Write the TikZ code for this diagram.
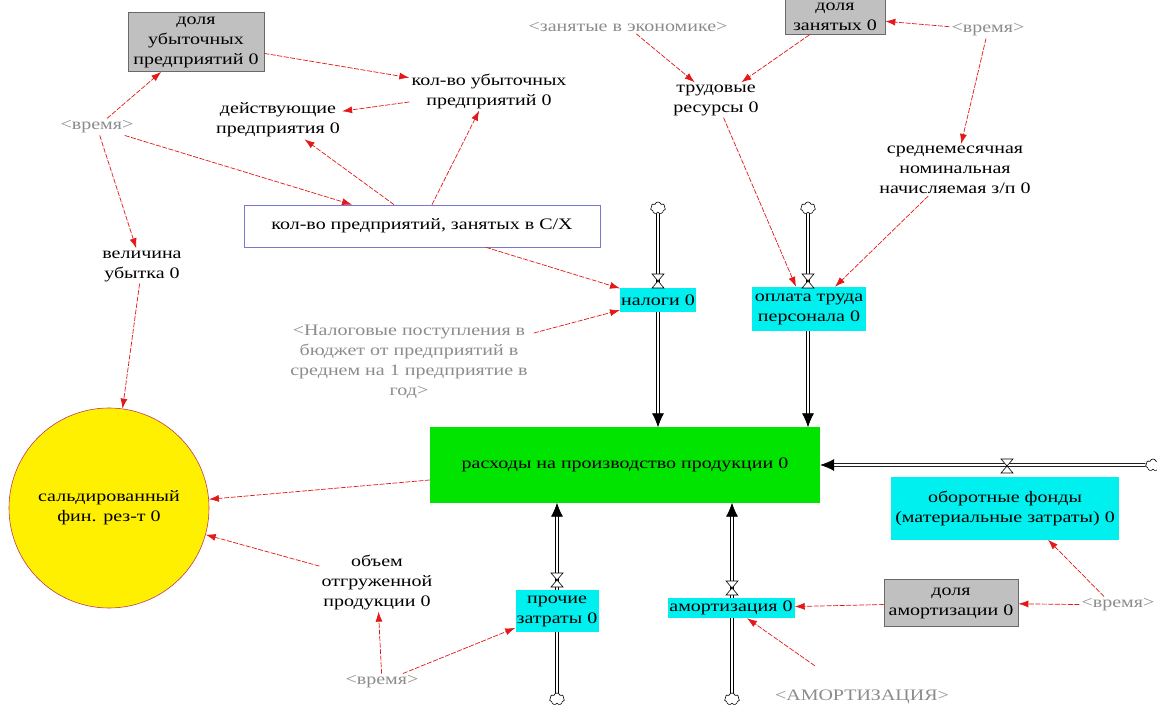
\documentclass[tikz,border=0pt]{standalone}
\usepackage{fontspec}
\setmainfont{Liberation Serif}[FakeStretch=1.25]
\usetikzlibrary{arrows.meta,shapes.symbols,calc}
\pgfdeclarelayer{background}
\pgfsetlayers{background,main}
\definecolor{arrowred}{RGB}{228,24,24}
\definecolor{shadowgray}{RGB}{140,140,140}
\definecolor{auxgray}{RGB}{192,192,192}
\definecolor{boxedge}{RGB}{105,105,105}
\definecolor{flowcyan}{RGB}{0,240,240}
\definecolor{stockgreen}{RGB}{0,228,0}
\definecolor{saldo}{RGB}{255,240,0}
\definecolor{saldoedge}{RGB}{190,60,90}
\definecolor{stockedge}{RGB}{120,120,205}
\tikzset{
  every node/.style={font=\fontsize{16}{20}\selectfont, align=center, text=black, inner sep=2pt},
  shadow/.style={text=shadowgray},
  auxbox/.style={draw=boxedge, fill=auxgray, line width=0.7pt},
  flowbox/.style={fill=flowcyan, inner sep=1pt},
  infl/.style={draw=arrowred, line width=0.7pt, dash pattern=on 5pt off 1.5pt,
    -{Latex[length=10pt,width=7pt]}},
  pipe/.style={draw=black, line width=0.7pt, double=white, double distance=2.2pt,
    -{Latex[length=14pt,width=12pt]}},
  src/.style={cloud, draw, cloud puffs=7, aspect=1.2, minimum width=15pt,
    minimum height=12pt, inner sep=0pt, fill=white, line width=0.6pt},
  valvepic/.pic={\draw[line width=0.6pt, fill=white] (-6,-7) -- (6,-7) -- (-6,7) -- (6,7) -- cycle;}
}
\begin{document}
\begin{tikzpicture}[x=1pt,y=-1pt]
\useasboundingbox (0,0) rectangle (1157,708);

% auxiliaries and shadow variables, upper left
\node[auxbox, minimum width=136pt, minimum height=59pt] (dolyaUb) at (196,42) {доля\\убыточных\\предприятий 0};
\node (kolUb) at (489,91) {кол-во убыточных\\предприятий 0};
\node (deistv) at (278,120) {действующие\\предприятия 0};
\node[shadow] (vremyaA) at (97,127) {<время>};
\node[draw=stockedge, fill=white, line width=0.7pt, minimum width=356pt, minimum height=42pt] (kolPred) at (422,226) {кол-во предприятий, занятых в С/Х};
\node (velich) at (142,266) {величина\\убытка 0};

% upper right
\node[shadow] (zanyat) at (628,27) {<занятые в экономике>};
\node[auxbox, minimum width=100pt, minimum height=35pt] (dolyaZan) at (835,17) {доля\\занятых 0};
\node[shadow] (vremyaB) at (988,30) {<время>};
\node (trud) at (716,100) {трудовые\\ресурсы 0};
\node (sredn) at (955,170) {среднемесячная\\номинальная\\начисляемая з/п 0};

% sources and sinks
\node[src] (cloudN) at (658,208) {};
\node[src] (cloudO) at (808,208) {};
\node[src] (cloudR) at (1153,465) {};
\node[src] (cloudP) at (557,699) {};
\node[src] (cloudA) at (732,699) {};

% stock
\node[fill=stockgreen, minimum width=390pt, minimum height=75pt] (green) at (625,465) {расходы на производство продукции 0};
\node[circle, fill=saldo, draw=saldoedge, line width=0.6pt, minimum size=200pt] (sal) at (109,508) {сальдированный\\фин. рез-т 0};

% flows
\node[flowbox, minimum width=74pt, minimum height=24pt] (nalogi) at (658,300) {налоги 0};
\node[flowbox, minimum width=114pt, minimum height=44pt] (oplata) at (809,309) {оплата труда\\персонала 0};
\node[flowbox, minimum width=83pt, minimum height=42pt] (prochie) at (557,611) {прочие\\затраты 0};
\node[flowbox, minimum width=127pt, minimum height=20pt] (amort) at (731,608) {амортизация 0};
\node[flowbox, minimum width=228pt, minimum height=63pt] (oborot) at (1005,508) {оборотные фонды\\(материальные затраты) 0};

% remaining variables
\node[shadow] (nalogPost) at (409,362) {<Налоговые поступления в\\бюджет от предприятий в\\среднем на 1 предприятие в\\год>};
\node (obem) at (377,582) {объем\\отгруженной\\продукции 0};
\node[shadow] (vremyaC) at (382,682) {<время>};
\node[shadow] (amortSh) at (862,697) {<АМОРТИЗАЦИЯ>};
\node[auxbox, minimum width=134pt, minimum height=47pt] (dolyaAm) at (951,603) {доля\\амортизации 0};
\node[shadow] (vremyaD) at (1118,605) {<время>};

% pipes, kept under the flow boxes
\begin{pgfonlayer}{background}
\fill[white] (0,0) rectangle (1157,708);
\draw[pipe] (cloudN) -- (cloudN |- green.north);
\draw[pipe] (cloudO) -- (cloudO |- green.north);
\draw[pipe] (cloudR) -- (green.east |- cloudR);
\draw[pipe] (cloudP) -- (cloudP |- green.south);
\draw[pipe] (cloudA) -- (cloudA |- green.south);
\end{pgfonlayer}

% valves
\pic at (658,281) {valvepic};
\pic at (808,281) {valvepic};
\pic at (1007,466) {valvepic};
\pic at (557,580) {valvepic};
\pic at (732,588) {valvepic};

% influences
\draw[infl] (vremyaA) -- (dolyaUb);
\draw[infl] (dolyaUb) -- (kolUb);
\draw[infl] (kolUb) -- (deistv);
\draw[infl] ([xshift=-28pt]kolPred.north) -- (deistv);
\draw[infl] ([xshift=10pt]kolPred.north) -- (kolUb);
\draw[infl] (vremyaA) -- (kolPred);
\draw[infl] (vremyaA) -- (velich);
\draw[infl] (velich) -- (sal);
\draw[infl] ([xshift=64pt]kolPred.south) -- (nalogi);
\draw[infl] ([xshift=4pt,yshift=-10pt]nalogPost.north east) -- (nalogi);
\draw[infl] (zanyat) -- (trud);
\draw[infl] (dolyaZan) -- (trud);
\draw[infl] (vremyaB) -- (dolyaZan);
\draw[infl] (vremyaB) -- (sredn);
\draw[infl] (trud) -- ([xshift=-13pt]oplata.north);
\draw[infl] (sredn) -- ([xshift=26pt]oplata.north);
\draw[infl] ([yshift=-15pt]green.west) -- (sal);
\draw[infl] (obem) -- (sal);
\draw[infl] (vremyaC) -- (obem);
\draw[infl] (vremyaC) -- (prochie);
\draw[infl] (dolyaAm) -- (amort);
\draw[infl] ([xshift=42pt,yshift=22pt]amortSh.north west) -- ([xshift=16pt]amort.south);
\draw[infl] (vremyaD) -- (dolyaAm);
\draw[infl] ([xshift=-14pt]vremyaD.north) -- ([xshift=43pt]oborot.south);
\end{tikzpicture}
\end{document}
